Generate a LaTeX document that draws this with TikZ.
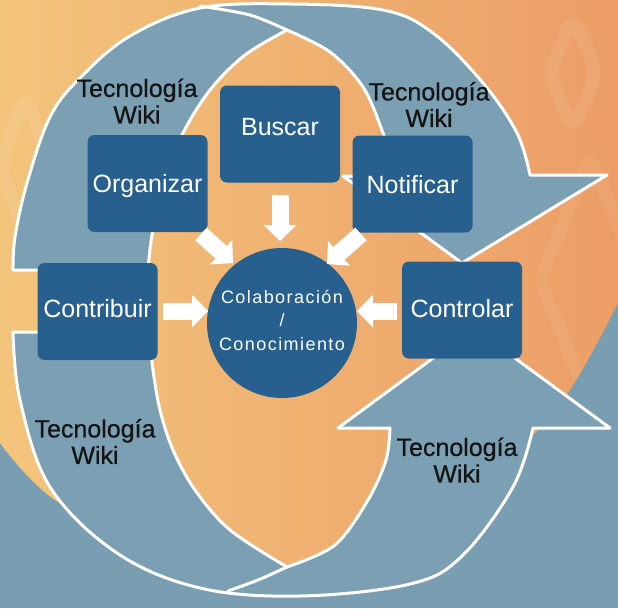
\documentclass[tikz,border=0pt]{standalone}
\usepackage{fontspec}
\setmainfont{Liberation Sans}
\newfontfamily\circfont[LetterSpace=8]{Liberation Sans}
\newfontfamily\labelfont[FakeBold=0.6]{Liberation Sans}
\usetikzlibrary{arrows.meta}
\definecolor{bggray}{HTML}{7A9EB1}
\definecolor{arrgray}{HTML}{7BA0B3}
\definecolor{boxblue}{HTML}{27608F}
\definecolor{orL}{HTML}{F3C47C}
\definecolor{orR}{HTML}{EC9D66}
\definecolor{labelink}{HTML}{141414}
\begin{document}
\begin{tikzpicture}[x=1pt,y=-1pt,
  orshade/.style={left color=orL,right color=orR},
  bigarrow/.style={fill=arrgray,draw=white,line width=3pt,line join=round},
  wline/.style={draw=white,line width=3pt,line cap=round},
  ring/.style={draw=white,opacity=0.08,line width=13pt,rounded corners=14pt},
  taskbox/.style={fill=boxblue,rounded corners=7pt,minimum width=120pt,minimum height=97pt,inner sep=0pt,text=white,font=\fontsize{25}{29}\selectfont,text height=18pt,text depth=0pt},
  hub/.style={circle,fill=boxblue,minimum size=150pt,inner sep=0pt,text=white,align=center,font=\circfont\fontsize{18}{23.4}\selectfont},
  wikilabel/.style={align=center,inner sep=0pt,text=labelink,font=\labelfont\fontsize{25}{26.5}\selectfont},
  blockarrow/.style={color=white,line width=17pt,-{Triangle[width=33pt,length=16pt,line width=0pt]}},
]
\useasboundingbox (0,0) rectangle (618,608);
% background
\fill[bggray] (0,0) rectangle (618,608);
% orange blob
\begin{scope}
 \clip (0,0) -- (618,0) -- (618,303) -- plot[smooth,tension=.6] coordinates {(618,303) (575,382) (533,435) (430,520) (300,565) (160,550) (55,500) (0,443)} -- cycle;
 \shade[orshade] (0,0) rectangle (618,608);
 \draw[ring] (573,17) -- (597,73) -- (573,130) -- (549,73) -- cycle;
 \draw[ring,opacity=0.06] (590,155) -- (640,280) -- (590,405) -- (540,280) -- cycle;
 \draw[ring] (25,95) -- (50,165) -- (25,235) -- (0,165) -- cycle;
\end{scope}
% inner lens
\begin{scope}
 \clip plot[smooth,tension=.55] coordinates {(287,30) (330,52) (363,87) (383,133) (397,180) (401,240) (399,330) (390,428) (386,460) (368,500) (335,545) (287,567)}
   -- plot[smooth,tension=.55] coordinates {(287,567) (230,530) (195,490) (173,450) (160,410) (153,370) (149,330) (148,285) (152,235) (163,185) (182,135) (210,90) (245,55) (287,30)} -- cycle;
 \shade[orshade] (0,0) rectangle (618,608);
\end{scope}
% lower circular arrow
\filldraw[bigarrow] plot[smooth,tension=.6] coordinates {(13,332) (20,400) (50,487) (117,553) (200,588) (300,596) (410,584) (462,556) (513,487) (533,428)}
  -- (610,428) -- (474,328) -- (338,428) -- (390,428)
  -- plot[smooth,tension=.55] coordinates {(390,428) (386,460) (368,500) (335,545) (287,567)}
  -- plot[smooth,tension=.55] coordinates {(287,567) (230,530) (195,490) (173,450) (160,410) (153,370) (149,332)} -- cycle;
% upper circular arrow
\filldraw[bigarrow] plot[smooth,tension=.6] coordinates {(13,270) (15,237) (27,183) (50,117) (80,78) (130,36) (200,8) (290,4) (383,10) (433,33) (483,83) (517,133) (530,175)}
  -- (607,175) -- (462,263) -- (343,176) -- (397,178)
  -- plot[smooth,tension=.55] coordinates {(397,178) (383,133) (363,87) (330,52) (287,30)}
  -- plot[smooth,tension=.55] coordinates {(287,30) (245,55) (210,90) (182,135) (163,185) (152,235) (148,270)} -- cycle;
\draw[wline] plot[smooth] coordinates {(287,30) (250,15) (200,6)};
\draw[wline] plot[smooth] coordinates {(287,567) (258,580) (228,591)};
% boxes and hub
\node[taskbox,text depth=16pt] (buscar) at (280,134) {Buscar};
\node[taskbox] (organizar) at (147.5,183.5) {Organizar};
\node[taskbox] (notificar) at (412.5,184) {Notificar};
\node[taskbox,text depth=7pt] (contribuir) at (97.5,311.5) {Contribuir};
\node[taskbox,text depth=4pt] (controlar) at (462,310) {Controlar};
\node[hub] (hub) at (282,323) {Colaboración\\/\\Conocimiento\rule[-6pt]{0pt}{6pt}};
% block arrows
\coordinate (bT) at (280,195); \coordinate (bH) at (280,241);
\coordinate (oT) at (201,234); \coordinate (oH) at (233,263);
\coordinate (nT) at (361,234); \coordinate (nH) at (327,264);
\coordinate (cT) at (163,311); \coordinate (cH) at (208,311);
\coordinate (kT) at (397,311); \coordinate (kH) at (357,311);
\draw[blockarrow] (bT) -- (bH);
\draw[blockarrow] (oT) -- (oH);
\draw[blockarrow] (nT) -- (nH);
\draw[blockarrow] (cT) -- (cH);
\draw[blockarrow] (kT) -- (kH);
% labels
\node[wikilabel] (w1) at (137,101) {Tecnología\\Wiki};
\node[wikilabel] (w2) at (429,104.5) {Tecnología\\Wiki};
\node[wikilabel] (w3) at (95,441.5) {Tecnología\\Wiki};
\node[wikilabel] (w4) at (457,460) {Tecnología\\Wiki};
\end{tikzpicture}
\end{document}
